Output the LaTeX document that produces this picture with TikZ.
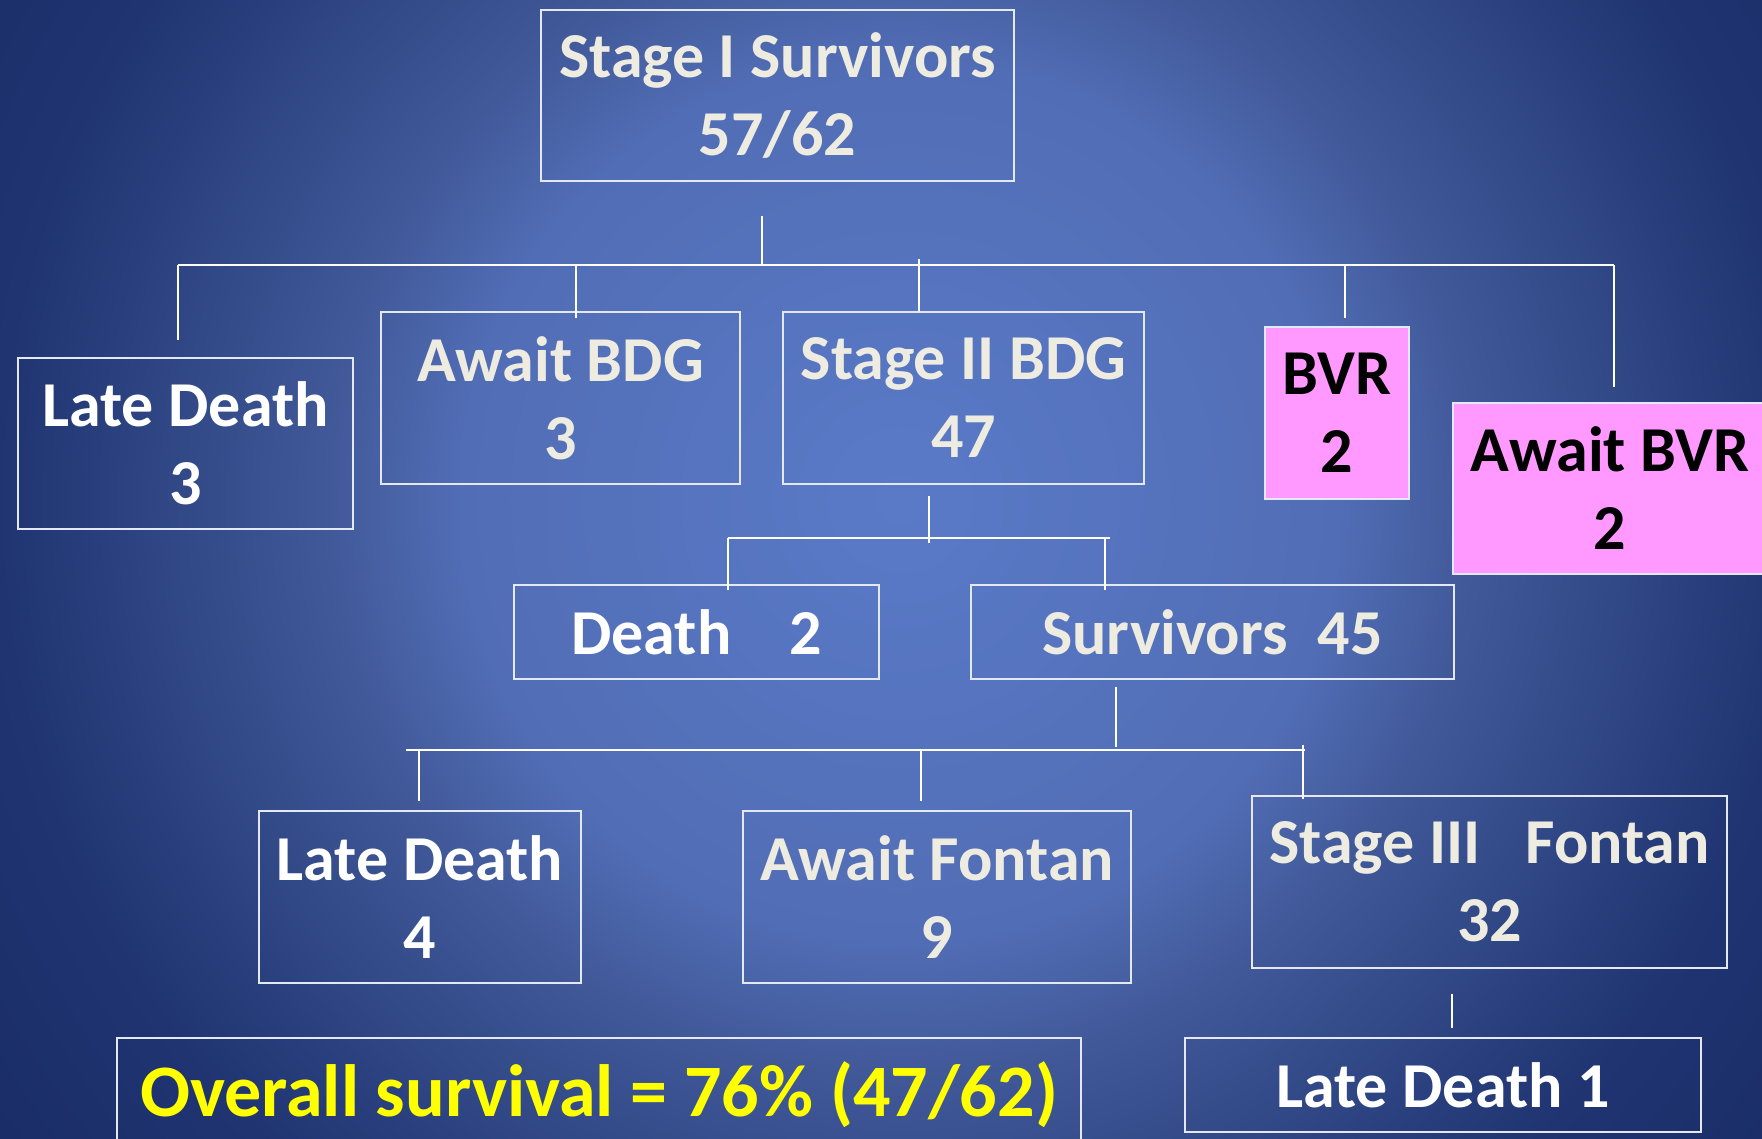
\documentclass[tikz,border=0pt]{standalone}
\usepackage{fontspec}
\setmainfont{Carlito}
\usepackage{tikz}
\definecolor{box_line}{RGB}{228,232,242}
\definecolor{text_cream}{RGB}{238,236,225}
\definecolor{fill_pink}{RGB}{255,153,255}
\definecolor{text_yellow}{RGB}{255,255,0}
\definecolor{bg_0}{RGB}{90,122,200}
\definecolor{bg_1}{RGB}{81,109,181}
\definecolor{bg_2}{RGB}{65,89,153}
\definecolor{bg_3}{RGB}{31,52,113}
\definecolor{bg_4}{RGB}{26,45,104}
\pgfdeclareradialshading{slide_bg}{\pgfpoint{0bp}{0bp}}{color(0bp)=(bg_0); color(10bp)=(bg_1); color(13bp)=(bg_2); color(20.5bp)=(bg_3); color(25bp)=(bg_4); color(50bp)=(bg_4)}

\begin{document}
\begin{tikzpicture}[x=1pt,y=-1pt]
    \tikzstyle{box}=[draw=box_line, line width=2pt, rectangle, inner sep=0pt, anchor=north west, align=center, text=text_cream, font=\fontsize{64}{78}\selectfont\bfseries]
    \tikzstyle{wbox}=[style=box, text=white]
    \tikzstyle{pbox}=[style=box, fill=fill_pink, text=black]
    \tikzstyle{wire}=[draw=white, line width=2.6pt]

    \useasboundingbox (0,0) rectangle (1762,1139);
    \begin{scope}
      \clip (0,0) rectangle (1762,1139);
      \shade[shading=slide_bg] (-200,-600) rectangle (2000,1600);
    \end{scope}

    \node[box, minimum width=473pt, minimum height=171pt] (top)  at (540,9)    {Stage I Survivors\\57/62};
    \node[wbox, minimum width=335pt, minimum height=171pt] (ld3) at (17,357)   {Late Death\\3};
    \node[box, minimum width=359pt, minimum height=172pt] (abdg) at (380,311)  {Await BDG\\3};
    \node[box, minimum width=361pt, minimum height=172pt] (s2)   at (782,311)  {Stage II BDG\\47};
    \node[pbox, minimum width=144pt, minimum height=172pt] (bvr) at (1264,326) {BVR\\2};
    \node[pbox, minimum width=314pt, minimum height=171pt] (abvr) at (1452,402) {Await BVR\\2};
    \node[wbox, minimum width=365pt, minimum height=94pt] (death) at (513,584) {Death\hspace{58pt}2};
    \node[box, minimum width=483pt, minimum height=94pt] (surv)  at (970,584)  {Survivors\hspace{30pt}45};
    \node[wbox, minimum width=322pt, minimum height=172pt] (ld4) at (258,810)  {Late Death\\4};
    \node[box, minimum width=388pt, minimum height=172pt] (afon) at (742,810)  {Await Fontan\\9};
    \node[box, minimum width=475pt, minimum height=172pt] (s3)   at (1251,795) {Stage III\hspace{45pt}Fontan\\32};
    \node[wbox, minimum width=516pt, minimum height=94pt] (ld1)  at (1184,1037) {Late Death 1};
    \node[box, text=text_yellow, minimum width=964pt, minimum height=113pt,
          font=\fontsize{74}{88}\selectfont\bfseries] (ovr) at (116,1037) {Overall survival = 76\% (47/62)};

    % first split
    \coordinate (j1) at (762,265);
    \coordinate (d1) at (178,265);
    \coordinate (d2) at (576,265);
    \coordinate (d3) at (919,259);
    \coordinate (d4) at (1345,265);
    \coordinate (d5) at (1614,265);
    \draw[wire] ([yshift=-34pt]top.south -| j1) -- (j1);
    \draw[wire] (d1) -- (d5);
    \draw[wire] (d1) -- ([yshift=17pt]d1 |- ld3.north);
    \draw[wire] (d2) -- ([yshift=-7pt]d2 |- abdg.north);
    \draw[wire] (d3) -- (d3 |- s2.north);
    \draw[wire] (d4) -- ([yshift=8pt]d4 |- bvr.north);
    \draw[wire] (d5) -- ([yshift=15pt]d5 |- abvr.north);

    % stage II
    \coordinate (k0) at (929,543);
    \coordinate (k1) at (728,538);
    \coordinate (k2) at (1110,538);
    \coordinate (k3) at (1105,538);
    \draw[wire] ([yshift=-11pt]s2.south -| k0) -- (k0);
    \draw[wire] (k1) -- (k2);
    \draw[wire] (k1) -- ([yshift=-6pt]k1 |- death.north);
    \draw[wire] (k3) -- ([yshift=-6pt]k3 |- surv.north);

    % survivors
    \coordinate (m0) at (1116,747);
    \coordinate (m1) at (406,750);
    \coordinate (m2) at (1305,750);
    \coordinate (m3) at (419,750);
    \coordinate (m4) at (921,750);
    \coordinate (m5) at (1303,745);
    \draw[wire] ([yshift=-7pt]surv.south -| m0) -- (m0);
    \draw[wire] (m1) -- (m2);
    \draw[wire] (m3) -- ([yshift=9pt]m3 |- ld4.north);
    \draw[wire] (m4) -- ([yshift=9pt]m4 |- afon.north);
    \draw[wire] (m5) -- ([yshift=-4pt]m5 |- s3.north);

    % stage III
    \coordinate (n0) at (1452,0);
    \draw[wire] ([yshift=-25pt]s3.south -| n0) -- ([yshift=9pt]ld1.north -| n0);
\end{tikzpicture}
\end{document}
